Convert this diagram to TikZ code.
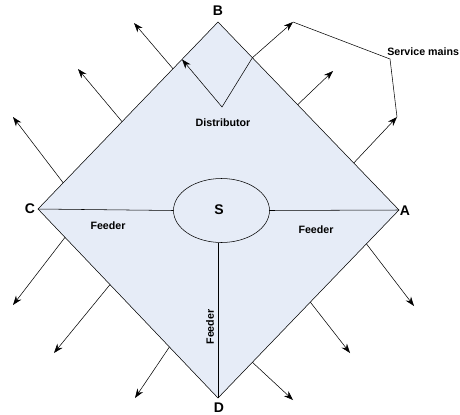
\documentclass[tikz,border=0pt]{standalone}
\usepackage{fontspec}
\setmainfont{Liberation Sans}
\usetikzlibrary{arrows.meta,calc,shapes.geometric}
\definecolor{areafill}{RGB}{230,236,247}
\tikzset{
  feed/.style={thin,black},
  outarrow/.style={thin,-{Stealth[length=7pt,width=5pt]}},
  vertexlabel/.style={font=\bfseries\fontsize{10.5}{12}\selectfont,inner sep=0pt},
  smalllabel/.style={font=\bfseries\fontsize{8}{9.6}\selectfont,inner sep=0pt}
}
\begin{document}
\begin{tikzpicture}[x=0.75pt,y=-0.75pt]
\useasboundingbox (0,0) rectangle (460,414);

    % Corners of the area
    \coordinate (B) at (218,22);
    \coordinate (A) at (399,210);
    \coordinate (D) at (218,398);
    \coordinate (C) at (38,209);

    % Area fed by the distributors
    \filldraw[fill=areafill,thin] (B) -- (A) -- (D) -- (C) -- cycle;

    % Substation
    \node[draw,thin,fill=areafill,ellipse,minimum width=72pt,minimum height=48pt,inner sep=0pt] (S) at (221.5,210.5) {};
    \node[vertexlabel] (Slabel) at (219,210) {S};

    % Feeders
    \draw[feed] (C) -- (S.west);
    \draw[feed] (S.east) -- (A);
    \draw[feed] (S.south -| D) -- (D);
    \node[smalllabel] (feedC) at (108,226) {Feeder};
    \node[smalllabel] (feedA) at (316,230) {Feeder};
    \node[smalllabel,rotate=90] (feedD) at (210,327) {Feeder};

    % Corner labels
    \node[vertexlabel] (labB) at (218,11) {B};
    \node[vertexlabel] (labA) at (405,211) {A};
    \node[vertexlabel] (labC) at (30,209) {C};
    \node[vertexlabel] (labD) at (219,408) {D};

    % Points on the sides
    \coordinate (bc1) at ($(B)!0.2!(C)$);
    \coordinate (bc2) at ($(B)!0.25!(C)$);
    \coordinate (bc3) at ($(B)!0.533!(C)$);
    \coordinate (bc4) at ($(B)!0.86!(C)$);
    \coordinate (ab1) at ($(B)!0.19!(A)$);
    \coordinate (ab2) at ($(B)!0.44!(A)$);
    \coordinate (ab3) at ($(B)!0.75!(A)$);
    \coordinate (cd1) at ($(C)!0.15!(D)$);
    \coordinate (cd2) at ($(C)!0.4!(D)$);
    \coordinate (cd3) at ($(C)!0.73!(D)$);
    \coordinate (da1) at ($(D)!0.19!(A)$);
    \coordinate (da2) at ($(D)!0.51!(A)$);
    \coordinate (da3) at ($(D)!0.82!(A)$);

    % Distributor
    \coordinate (dist) at (222,107);
    \draw[outarrow] (ab1) -- (dist) -- (bc1);
    \node[smalllabel] (distlabel) at (223,123) {Distributor};

    % Service mains
    \coordinate (sm1) at (293,22);
    \coordinate (sm2) at (390,59);
    \coordinate (sm3) at (397,117);
    \draw[outarrow] (ab1) -- (sm1);
    \draw[thin] (sm1) -- (sm2) -- (sm3);
    \draw[outarrow] (ab3) -- (sm3);
    \node[smalllabel,anchor=west] (smlabel) at (387,52) {Service mains};

    % Outgoing services
    \coordinate (t1) at (134,23);
    \coordinate (t2) at (78,69);
    \coordinate (t3) at (13,117);
    \coordinate (t4) at (333,71);
    \coordinate (t5) at (13,305);
    \coordinate (t6) at (54,353);
    \coordinate (t7) at (135,398);
    \coordinate (t8) at (293,400);
    \coordinate (t9) at (350,353);
    \coordinate (t10) at (414,306);
    \draw[outarrow] (bc2) -- (t1);
    \draw[outarrow] (bc3) -- (t2);
    \draw[outarrow] (bc4) -- (t3);
    \draw[outarrow] (ab2) -- (t4);
    \draw[outarrow] (cd1) -- (t5);
    \draw[outarrow] (cd2) -- (t6);
    \draw[outarrow] (cd3) -- (t7);
    \draw[outarrow] (da1) -- (t8);
    \draw[outarrow] (da2) -- (t9);
    \draw[outarrow] (da3) -- (t10);

\end{tikzpicture}
\end{document}
